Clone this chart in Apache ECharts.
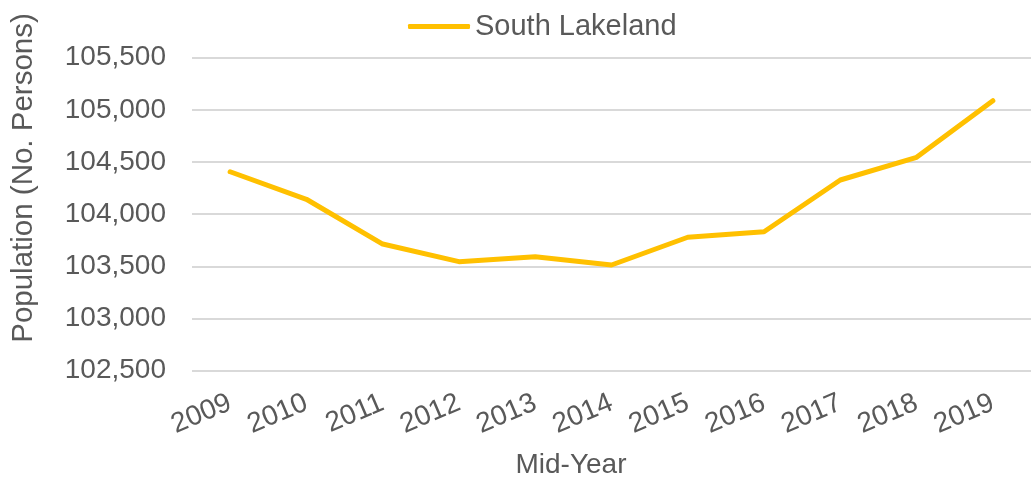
<!DOCTYPE html>
<html>
<head>
<meta charset="utf-8">
<script src="https://cdn.jsdelivr.net/npm/echarts@6/dist/echarts.min.js"></script>
<style>
html,body{margin:0;padding:0;background:#fff;}
#chart{width:1031px;height:478px;}
</style>
</head>
<body>
<div id="chart"></div>
<script>
const years = ['2009','2010','2011','2012','2013','2014','2015','2016','2017','2018','2019'];
const southLakeland = [104407, 104143, 103714, 103545, 103593, 103513, 103779, 103832, 104328, 104545, 105088];
const seriesName = 'South Lakeland';
const yTitle = 'Population (No. Persons)';
const xTitle = 'Mid-Year';

const font = '"Liberation Sans", Arial, sans-serif';
const textColor = '#595959';

const chart = echarts.init(document.getElementById('chart'));
chart.setOption({
  animation: false,
  backgroundColor: '#ffffff',
  textStyle: { fontFamily: font },
  legend: {
    data: [seriesName],
    left: 403,
    top: 7,
    icon: 'roundRect',
    itemWidth: 62,
    itemHeight: 5,
    textStyle: { fontFamily: font, fontSize: 29, color: textColor }
  },
  grid: { left: 192, right: -5, top: 57.7, bottom: 107.3, containLabel: false },
  xAxis: {
    type: 'category',
    data: years,
    boundaryGap: true,
    axisLine: { show: false },
    axisTick: { show: false },
    axisLabel: {
      interval: 0,
      rotate: 23,
      margin: 31,
      fontFamily: font,
      fontSize: 28,
      color: textColor
    }
  },
  yAxis: {
    type: 'value',
    min: 102500,
    max: 105500,
    interval: 500,
    axisLine: { show: false },
    axisTick: { show: false },
    splitLine: { lineStyle: { color: '#D9D9D9', width: 2 } },
    axisLabel: {
      margin: 26,
      fontFamily: font,
      fontSize: 28,
      color: textColor,
      formatter: v => v.toLocaleString('en-US')
    }
  },
  graphic: [
    {
      type: 'text',
      x: 24, y: 178,
      rotation: Math.PI / 2,
      style: { text: yTitle, fontFamily: font, fontSize: 29.5, fill: textColor, align: 'center', verticalAlign: 'middle' }
    },
    {
      type: 'text',
      x: 571, y: 465,
      style: { text: xTitle, fontFamily: font, fontSize: 28, fill: textColor, align: 'center', verticalAlign: 'middle' }
    }
  ],
  series: [{
    name: seriesName,
    type: 'line',
    data: southLakeland,
    symbol: 'none',
    lineStyle: { color: '#FFC000', width: 5, cap: 'round', join: 'round' },
    itemStyle: { color: '#FFC000' }
  }]
});
</script>
</body>
</html>
